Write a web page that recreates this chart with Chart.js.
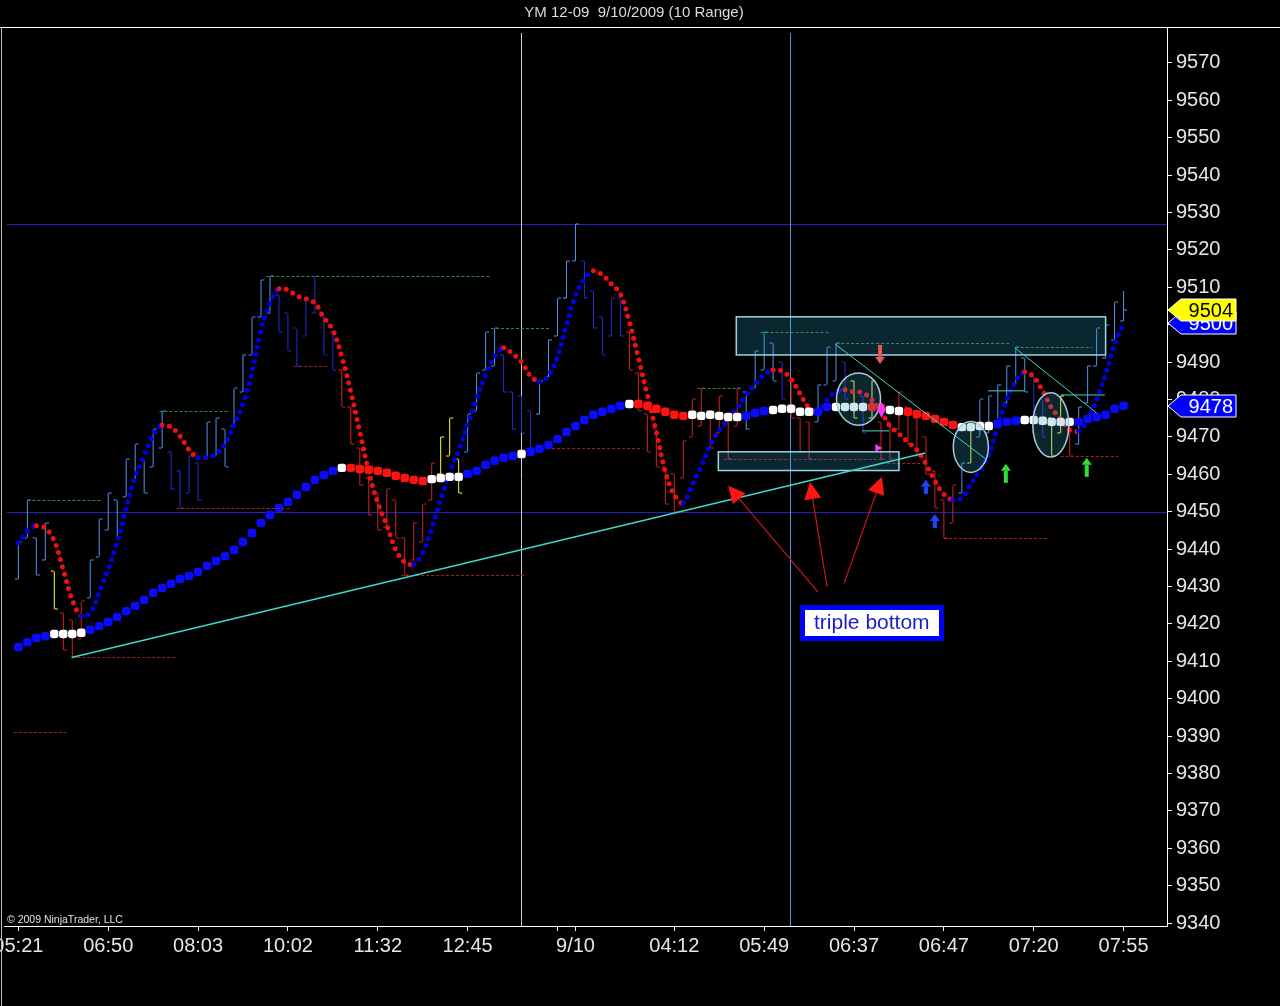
<!DOCTYPE html>
<html><head><meta charset="utf-8">
<script src="https://cdn.jsdelivr.net/npm/chart.js@4.4.1/dist/chart.umd.min.js"></script>
<style>html,body{margin:0;padding:0;background:#000;overflow:hidden}</style>
</head><body>
<canvas id="c" width="1280" height="1006"></canvas>
<script>
const chartTitle = 'YM 12-09  9/10/2009 (10 Range)';
const copyrightText = '\u00A9 2009 NinjaTrader, LLC';

const highs = [9442,9453,9443,9447,9434,9423,9421,9426,9437,9448,
9455,9453,9464,9468,9464,9472,9477,9466,9461,9465,
9463,9474,9475,9472,9483,9492,9502,9512,9513,9508,
9503,9499,9507,9513,9502,9498,9488,9478,9467,9459,
9455,9456,9453,9443,9447,9452,9463,9470,9475,9464,
9476,9487,9498,9499,9492,9482,9481,9477,9485,9496,
9507,9517,9527,9517,9509,9502,9507,9507,9498,9487,
9476,9472,9462,9460,9469,9480,9483,9477,9481,9474,
9483,9482,9493,9498,9495,9490,9485,9475,9474,9484,
9494,9495,9490,9485,9481,9485,9474,9474,9482,9478,
9475,9470,9461,9453,9457,9463,9473,9480,9481,9484,
9489,9494,9491,9486,9480,9475,9481,9474,9478,9489,
9499,9500,9506,9509];
const lows = [9432,9443,9433,9437,9424,9413,9411,9416,9427,9438,
9445,9443,9454,9458,9455,9462,9467,9456,9451,9455,
9453,9464,9465,9462,9473,9482,9492,9502,9503,9498,
9493,9489,9497,9503,9492,9488,9478,9468,9457,9449,
9445,9446,9443,9433,9437,9442,9453,9460,9465,9455,
9466,9477,9488,9489,9482,9472,9471,9467,9476,9486,
9497,9507,9517,9507,9499,9492,9497,9497,9488,9477,
9466,9462,9452,9450,9459,9470,9473,9467,9471,9464,
9473,9472,9483,9488,9485,9480,9475,9466,9464,9474,
9484,9485,9480,9475,9471,9475,9464,9464,9472,9468,
9465,9460,9451,9443,9447,9455,9463,9470,9471,9474,
9479,9484,9482,9476,9470,9465,9471,9465,9468,9479,
9489,9491,9496,9501];
const lastPrice = 9504;
// b = light blue, n = dark blue, r = red, y = yellow
const barColors = 'bbbb' + 'y' + 'rrr' + 'bbbbbbbbb' + 'nnnn' + 'bbbbbbbb' + 'nnnnnnn' +
  'rrrrrrrrrrr' + 'yyy' + 'bbbb' + 'nnnn' + 'bbbbb' + 'nnnnn' + 'rrrrrrrrrrrrr' + 'bbbb' + 'n' +
  'rrr' + 'bbb' + 'n' + 'y' + 'n' + 'y' + 'rrrrrrrrr' + 'b' + 'y' + 'bbbbbb' + 'nn' + 'yy' + 'r' + 'bbbbbb';

const fastMA = [9441.6,9444.8,9446.2,9445.6,9442.2,9434.4,9426.4,9422.1,9422.9,9428.5,
9434.7,9441.9,9451.0,9459.3,9464.9,9470.5,9473.2,9472.6,9470.2,9466.5,
9464.4,9464.6,9465.4,9468.1,9473.2,9478.8,9487.4,9498.6,9505.8,9509.6,
9509.3,9507.7,9506.9,9505.8,9501.8,9498.6,9491.4,9482.0,9471.3,9460.6,
9452.3,9446.4,9439.8,9436.5,9436.0,9439.0,9445.6,9453.1,9460.6,9466.2,
9473.4,9480.4,9486.6,9491.4,9493.8,9492.2,9490.0,9486.3,9484.7,9486.3,
9491.4,9500.0,9507.7,9512.2,9514.4,9513.3,9510.9,9508.2,9500.7,9491.1,
9481.2,9471.3,9460.6,9454.5,9452.3,9457.2,9462.2,9467.8,9471.8,9474.5,
9477.7,9481.2,9484.1,9486.6,9487.9,9487.6,9485.5,9481.5,9477.7,9476.7,
9479.9,9482.0,9482.6,9482.0,9481.8,9479.9,9476.9,9472.9,9470.8,9468.6,
9466.5,9462.8,9458.2,9454.7,9453.1,9453.7,9457.4,9461.1,9465.2,9473.2,
9479.9,9485.0,9487.4,9486.0,9482.3,9477.7,9474.8,9471.8,9471.6,9474.5,
9479.9,9486.8,9494.8,9500.4];

const slowMA = [9413.8,9415.1,9416.2,9416.7,9417.3,9417.3,9417.3,9417.6,9418.4,9419.4,
9420.5,9421.8,9423.4,9424.8,9426.4,9428.3,9429.6,9430.7,9432.0,9432.8,
9433.9,9435.5,9436.8,9438.1,9439.8,9441.9,9444.3,9447.0,9449.1,9451.0,
9452.6,9454.5,9456.6,9458.5,9459.8,9460.9,9461.7,9461.7,9461.4,9461.2,
9460.9,9460.4,9459.6,9459.0,9458.5,9458.2,9458.7,9459.0,9459.3,9459.3,
9460.1,9460.9,9462.5,9463.6,9464.4,9464.9,9465.4,9466.0,9466.8,9467.8,
9469.4,9471.3,9472.9,9474.5,9475.9,9476.7,9477.5,9478.3,9478.8,9478.8,
9478.3,9477.5,9476.7,9475.9,9475.6,9475.9,9475.6,9475.9,9475.6,9475.3,
9475.3,9475.6,9476.4,9476.9,9477.2,9477.5,9477.5,9476.7,9476.7,9476.7,
9478.0,9478.0,9478.0,9478.0,9478.0,9478.0,9477.7,9477.2,9476.9,9476.7,
9476.1,9475.6,9474.8,9474.0,9473.2,9472.6,9472.6,9472.9,9472.9,9473.4,
9474.0,9474.3,9474.5,9474.5,9474.3,9474.0,9474.0,9474.0,9474.0,9474.8,
9475.3,9475.9,9477.5,9478.3];
// b = blue, r = red, w = white
const slowColors = 'bbbb' + 'wwww' + 'bbbbbbbbbbbbbbbbbbbbbbbbbbbb' + 'w' + 'rrrrrrrrr' + 'wwww' +
  'bbbbbb' + 'w' + 'bbbbbbbbbbb' + 'w' + 'rrrrrr' + 'wwwwww' + 'bbb' + 'wwwww' + 'bb' + 'wwww' +
  'rr' + 'ww' + 'rrrrrr' + 'wwww' + 'bbb' + 'wwwwww' + 'bbbbbb';

const yTicks = [9340,9350,9360,9370,9380,9390,9400,9410,9420,9430,9440,9450,9460,9470,9480,9490,9500,9510,9520,9530,9540,9550,9560,9570];
const xTickIdx = [0,10,20,30,40,50,60,62,73,83,93,103,113,123];
const xTickLabels = ['05:21','06:50','08:03','10:02','11:32','12:45','','9/10','04:12','05:49','06:37','06:47','07:20','07:55'];

// drawings (bar index, price)
const hLines = [9527, 9450];
const vLines = [[56.0,'#cfcfcf'],[85.94,'#5c90e8']];
const swingLines = [[1,9.3,9453,'g'],[15.7,23.5,9477,'g'],[27.6,52.4,9513,'g'],[52.6,59.3,9499,'g'],
  [75.6,80.4,9483,'g'],[82.6,90.4,9498,'g'],[91,110.4,9495,'g'],[111,119.5,9494,'g'],
  [-0.5,5.3,9391,'r'],[6,17.5,9411,'r'],[17.6,30.4,9451,'r'],[30.7,34.5,9489,'r'],[42.6,56.3,9433,'r'],
  [59.4,69.5,9467,'r'],[78.5,96.2,9464,'r'],[96.7,100.4,9463,'r'],[103,114.5,9443,'r'],[116,122.4,9465,'r']];
const zoneRects = [[79.9,9502.1,121,9491.9],[77.9,9466,98,9461]];
const ellipses = [[93.5,9480.1,2.45,7],[106,9467.3,1.95,6.8],[114.9,9473.2,2.0,8.6]];
const trendLines = [[5.92,9411,100.9,9465.7,1.6],[90.9,9494.8,107.8,9463.8,1],[110.9,9493.8,120,9476.4,1],
  [107.9,9482.3,112,9482.3,1],[116,9481.2,120.9,9481.2,1],[93.9,9471.6,96.9,9471.6,1]];
const pointerArrows = [[89,9428.5,79,9456.9],[90,9429.9,88.1,9457.9],[91.9,9430.9,96.1,9459.3]];
const blockArrows = [[95.9,9489.5,9494.6,'#e05a5a'],[101,9458.5,9454.7,'#2244ff'],[102,9449.4,9445.6,'#2244ff'],
  [109.9,9462.8,9457.7,'#33dd33'],[118.9,9464.4,9459.3,'#33dd33']];
const magentaMarks = [[96.06,9477.2,'up'],[95.7,9467,'right']];
const tripleLabel = {i:94.98, p:9420.1, text:'triple bottom'};

const FONT = '"Liberation Sans", Arial, sans-serif';
Chart.defaults.font.family = FONT;
const BC = {b:'#4c98ee', n:'#2a2ad8', r:'#d42222', y:'#ffff30'};
const SC = {b:'#0a0aff', r:'#ff1212', w:'#ffffff'};
const idx = highs.map((_, i) => i);

function seg(g,x1,y1,x2,y2){g.beginPath();g.moveTo(x1,y1);g.lineTo(x2,y2);g.stroke();}

const ninja = {
  id:'ninja',
  beforeDraw(c){ const g=c.ctx; g.save(); g.fillStyle='#000'; g.fillRect(0,0,c.width,c.height); g.restore(); },
  beforeDatasetsDraw(c){
    const g=c.ctx, a=c.chartArea, px=v=>c.scales.x.getPixelForValue(v), py=v=>c.scales.y.getPixelForValue(v);
    g.save(); g.beginPath(); g.rect(a.left,a.top,a.right-a.left,a.bottom-a.top); g.clip();
    g.lineWidth=1; g.strokeStyle='#2222c4';
    for (const p of hLines){ const y=Math.round(py(p))+0.5; seg(g,a.left+2,y,a.right,y); }
    for (const [v,col] of vLines){ const x=Math.floor(px(v))+0.5; g.strokeStyle=col; seg(g,x,a.top+6,x,a.bottom); }
    g.restore();
  },
  afterDatasetDraw(c,args){
    if (args.index!==0) return;
    const g=c.ctx, px=v=>c.scales.x.getPixelForValue(v), py=v=>c.scales.y.getPixelForValue(v);
    g.save();
    for (const i of idx){
      const up = i===0 ? true : highs[i] > highs[i-1];
      const open = up ? lows[i] : highs[i];
      const close = i===idx.length-1 ? lastPrice : (up ? highs[i] : lows[i]);
      const x = px(i);
      g.fillStyle = BC[barColors[i]];
      g.fillRect(x-3.5, Math.round(py(open))-0.5, 3, 1);
      g.fillRect(x+0.5, Math.round(py(close))-0.5, 3, 1);
    }
    g.restore();
  },
  afterDatasetsDraw(c){
    const g=c.ctx, a=c.chartArea, px=v=>c.scales.x.getPixelForValue(v), py=v=>c.scales.y.getPixelForValue(v);
    g.save(); g.beginPath(); g.rect(a.left,a.top,a.right-a.left,a.bottom-a.top); g.clip();
    g.lineWidth=1; g.setLineDash([3,2]);
    for (const [i0,i1,p,k] of swingLines){ g.strokeStyle = k==='g' ? '#2e8e2e' : '#b01c1c'; const y=Math.round(py(p))+0.5; seg(g,px(i0),y,px(i1),y); }
    g.setLineDash([]);
    for (const [i0,p0,i1,p1] of zoneRects){
      const x0=px(i0), x1=px(i1), y0=py(p0), y1=py(p1);
      g.fillStyle='rgba(40,160,200,0.24)'; g.fillRect(x0,y0,x1-x0,y1-y0);
      g.strokeStyle='#9ed4e4'; g.lineWidth=1.5; g.strokeRect(x0,y0,x1-x0,y1-y0);
    }
    for (const [ci,cp,ri,rp] of ellipses){
      const cx=px(ci), cy=py(cp), rx=px(ci+ri)-cx, ry=cy-py(cp+rp);
      g.beginPath(); g.ellipse(cx,cy,rx,ry,0,0,Math.PI*2);
      g.fillStyle='rgba(50,160,195,0.24)'; g.fill();
      g.strokeStyle='#a6ccd6'; g.lineWidth=1.5; g.stroke();
    }
    for (const [i0,p0,i1,p1,w] of trendLines){ g.strokeStyle='#3cd8c8'; g.lineWidth=w; seg(g,px(i0),py(p0),px(i1),py(p1)); }
    for (const [i0,p0,i1,p1] of pointerArrows){
      const x0=px(i0), y0=py(p0), x1=px(i1), y1=py(p1), ang=Math.atan2(y1-y0,x1-x0), L=17, W=8.5;
      const cs=Math.cos(ang), sn=Math.sin(ang);
      g.strokeStyle='#c81818'; g.lineWidth=1.2; seg(g,x0,y0,x1-cs*L*0.8,y1-sn*L*0.8);
      g.fillStyle='#ff1414'; g.beginPath(); g.moveTo(x1,y1);
      g.lineTo(x1-cs*L-sn*W, y1-sn*L+cs*W); g.lineTo(x1-cs*L+sn*W, y1-sn*L-cs*W); g.closePath(); g.fill();
    }
    for (const [i,pt,pl,col] of blockArrows){
      const x=px(i), yt=py(pt), yl=py(pl), d=Math.sign(yl-yt), hh=7;
      g.fillStyle=col;
      g.fillRect(x-2, Math.min(yl, yt+d*hh), 4, Math.abs(yl-(yt+d*hh)));
      g.beginPath(); g.moveTo(x,yt); g.lineTo(x-5,yt+d*hh); g.lineTo(x+5,yt+d*hh); g.closePath(); g.fill();
    }
    g.fillStyle='#ff33ff';
    for (const [i,p,k] of magentaMarks){
      const x=px(i), y=py(p); g.beginPath();
      if (k==='up'){ g.moveTo(x,y-8); g.lineTo(x+4,y); g.lineTo(x,y+8); g.lineTo(x-4,y); }
      else { g.moveTo(x-3,y-4); g.lineTo(x+4,y); g.lineTo(x-3,y+4); }
      g.closePath(); g.fill();
    }
    g.restore();
    // label box
    g.save();
    const bx=px(tripleLabel.i), by=py(tripleLabel.p);
    g.fillStyle='#0000ff'; g.fillRect(Math.round(bx-72), Math.round(by-18), 144, 36);
    g.fillStyle='#ffffff'; g.fillRect(Math.round(bx-67), Math.round(by-13), 134, 26);
    g.fillStyle='#1c1cc8'; g.font='21px '+FONT; g.textAlign='center'; g.textBaseline='middle';
    g.fillText(tripleLabel.text, bx, by);
    g.restore();
  },
  afterDraw(c){
    const g=c.ctx, a=c.chartArea, py=v=>c.scales.y.getPixelForValue(v);
    g.save();
    g.strokeStyle='#ffffff'; g.lineWidth=1;
    seg(g,0,a.top+0.5,c.width,a.top+0.5);
    g.strokeStyle='#bdbdbd'; seg(g,1.5,a.top,1.5,c.height);
    g.fillStyle='#dcdcdc'; g.font='15px '+FONT; g.textAlign='center'; g.textBaseline='middle';
    g.fillText(chartTitle, 634, 13);
    g.font='10.5px '+FONT; g.textAlign='left'; g.textBaseline='alphabetic'; g.fillStyle='#e0e0e0';
    g.fillText(copyrightText, 7, 923);
    function tag(v, bg, fg){
      const y=Math.round(py(v)), xl=a.right+1, xs=a.right+14, xr=1236, h=11;
      g.beginPath(); g.moveTo(xl,y); g.lineTo(xs,y-h); g.lineTo(xr,y-h); g.lineTo(xr,y+h); g.lineTo(xs,y+h); g.closePath();
      g.fillStyle=bg; g.fill(); g.strokeStyle='#ffffff'; g.lineWidth=1; g.stroke();
      g.fillStyle=fg; g.font='20px '+FONT; g.textAlign='right'; g.textBaseline='middle';
      g.fillText(String(Math.round(v)), 1233, y+1);
    }
    tag(fastMA[fastMA.length-1], '#0000ff', '#ffffff');
    tag(slowMA[slowMA.length-1], '#0000ff', '#ffffff');
    tag(lastPrice, '#ffff00', '#000000');
    g.restore();
  }
};

new Chart(document.getElementById('c'), {
  data: {
    datasets: [
      { type:'bar', label:'Range bars', data: idx.map(i=>({x:i, y:[lows[i], highs[i]]})),
        backgroundColor: idx.map(i=>BC[barColors[i]]), barThickness:1, borderWidth:0, inflateAmount:0, order:3 },
      { type:'line', label:'Fast MA', data: idx.map(i=>({x:i, y:fastMA[i]})),
        borderColor:'#0000e8', borderWidth:5, borderDash:[0,7.5], borderCapStyle:'round', pointRadius:0, tension:0.35, order:2,
        segment:{ borderColor: s => s.p1.parsed.y >= s.p0.parsed.y ? '#0000e8' : '#f01010' } },
      { type:'line', label:'Slow MA', data: idx.map(i=>({x:i, y:slowMA[i]})), showLine:false,
        pointStyle:'rectRounded', pointRadius:4.9, pointBorderWidth:0, pointBackgroundColor: idx.map(i=>SC[slowColors[i]]), order:1 }
    ]
  },
  options: {
    responsive:false, animation:false, events:[],
    layout:{ padding:{ top:27, left:3, right:0, bottom:0 } },
    plugins:{ legend:{display:false}, tooltip:{enabled:false}, title:{display:false} },
    scales:{
      x:{ type:'linear', min:-1.5, max:127.8333, offset:false,
          afterBuildTicks: s => { s.ticks = xTickIdx.map(v=>({value:v})); },
          afterFit: s => { s.height = 80; s.paddingLeft = 0; s.paddingRight = 0; },
          ticks:{ autoSkip:false, maxRotation:0, minRotation:0, color:'#e6e6e6', font:{size:20}, padding:3,
                  callback:(v,i)=>xTickLabels[i] },
          grid:{ offset:false, drawOnChartArea:false, drawTicks:true, tickLength:5, color:'#ffffff' },
          border:{ display:true, color:'#ffffff', width:1 } },
      y:{ type:'linear', position:'right', min:9339.2, max:9579.6,
          afterBuildTicks: s => { s.ticks = yTicks.map(v=>({value:v})); },
          afterFit: s => { s.width = 113; s.paddingTop = 0; s.paddingBottom = 0; },
          ticks:{ color:'#e6e6e6', font:{size:20}, padding:4, callback: v => String(v) },
          grid:{ drawOnChartArea:false, drawTicks:true, tickLength:5, color:'#ffffff' },
          border:{ display:true, color:'#ffffff', width:1 } }
    }
  },
  plugins:[ninja]
});
</script>
</body></html>
